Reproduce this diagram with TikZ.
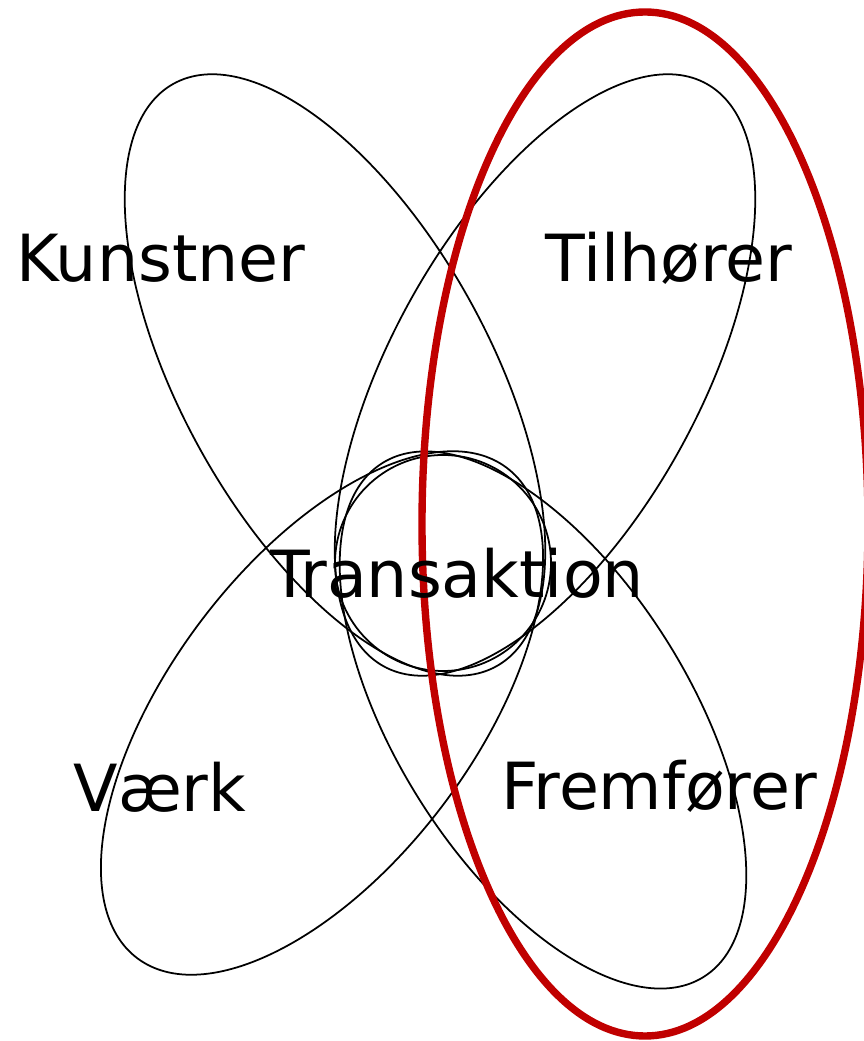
\documentclass[tikz,border=0pt]{standalone}
\usepackage{fontspec}
\setmainfont{DejaVu Sans}
\definecolor{ringred}{RGB}{192,0,0}
\tikzset{
    petal/.style={black, line width=1pt},
    ring/.style={ringred, line width=4.2pt},
    setname/.style={font=\fontsize{37}{44}\selectfont, anchor=base, inner sep=0pt},
}

\begin{document}
\begin{tikzpicture}[x=0.02cm, y=0.02cm]
\useasboundingbox (0,0) rectangle (863,1041);
\draw[petal, rotate around={-61:(335,666)}] (335,666) ellipse (333 and 154);
\draw[petal, rotate around={61:(545,666)}] (545,666) ellipse (333 and 154);
\draw[petal, rotate around={53:(322,328)}] (322,328) ellipse (307 and 152);
\draw[petal, rotate around={-58:(543,321)}] (543,321) ellipse (303 and 147);
\draw[petal] (443,478) circle (108);

\draw[ring] (645,517) ellipse (223 and 512);

\node[setname] (kunstner) at (161,759) {Kunstner};
\node[setname] (tilhorer) at (669,759) {Tilhører};
\node[setname] (vaerk) at (160,229) {Værk};
\node[setname] (fremforer) at (659,231) {Fremfører};
\node[setname] (transaktion) at (457,443) {Transaktion};
\end{tikzpicture}
\end{document}
